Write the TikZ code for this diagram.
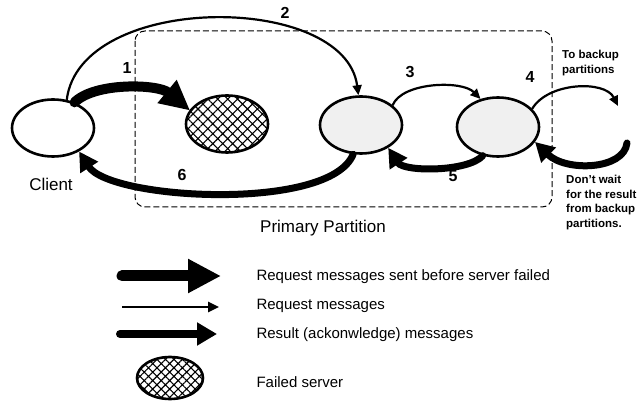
\documentclass[tikz,border=0pt]{standalone}
\usepackage{fontspec}
\setmainfont{Liberation Sans}
\usetikzlibrary{shapes.geometric,arrows.meta,patterns.meta}

\begin{document}
\begin{tikzpicture}[x=1pt,y=-1pt,
  server/.style={ellipse, draw, line width=2.6pt, inner sep=0pt,
                 minimum width=82pt, minimum height=57pt},
  live/.style={server, fill=black!6},
  failed/.style={server, pattern={Hatch[angle=45,distance=7pt,line width=1.1pt]}},
  reqmsg/.style={line width=2.2pt, -{Triangle[length=10pt,width=9pt]}},
  resmsg/.style={line width=7pt, line cap=round, -{Triangle[length=19pt,width=20pt]}},
  oldmsg/.style={line width=10pt, line cap=round, -{Triangle[length=30pt,width=28pt]}},
  partition/.style={draw, dashed, dash pattern=on 6pt off 3pt, line width=1pt, rounded corners=10pt},
  numlbl/.style={font=\fontsize{16}{18}\selectfont\bfseries},
  biglbl/.style={font=\fontsize{17}{20}\selectfont},
  legendlbl/.style={anchor=west, font=\fontsize{15}{18}\selectfont},
  notelbl/.style={anchor=north west, align=left, inner sep=0pt,
                  font=\fontsize{11.5}{14.5}\selectfont\bfseries},
]
\useasboundingbox (0,0) rectangle (638,406);

% primary partition frame
\draw[partition] (135,31) rectangle (552,207);
\node[biglbl] (pp) at (323,228) {Primary Partition};

% client and servers
\node[server] (client) at (53,128) {};
\node[biglbl] (clientlbl) at (51,184) {Client};
\node[failed] (dead) at (227,124) {};
\node[live] (s2) at (361,125) {};
\node[live, minimum height=59pt] (s3) at (498,127) {};

% 1: request sent before the server failed
\draw[oldmsg] (client.50) .. controls (95,82) and (158,84) .. (dead.160);
\node[numlbl] (n1) at (127,68) {1};

% 2: request re-sent to the new primary
\draw[reqmsg] (client.64) .. controls (80,-8) and (345,-8) .. (s2.95);
\node[numlbl] (n2) at (285,13) {2};

% 3: primary forwards to the next server
\draw[reqmsg] (s2.32) .. controls (402,82) and (462,80) .. (s3.122);
\node[numlbl] (n3) at (410,72) {3};

% 4: forwarded to backup partitions
\coordinate (bk1) at (618,106);
\draw[reqmsg] (s3.28) .. controls (548,82) and (605,80) .. (bk1);
\node[numlbl] (n4) at (530,77) {4};
\node[notelbl] (tobk) at (562,50) {To backup\\partitions};

% reply from backups
\coordinate (bk2) at (627,143);
\draw[resmsg] (bk2) .. controls (624,170) and (566,172) .. (s3.-22);
\node[notelbl] (nowait) at (566,175) {Don't wait\\for the result\\from backup\\partitions.};

% 5: result back to the primary
\draw[resmsg] (s3.-118) .. controls (468,172) and (404,172) .. (s2.-40);
\node[numlbl] (n5) at (453,176) {5};

% 6: result back to the client
\draw[resmsg] (s2.-105) .. controls (330,212) and (110,200) .. (client.-42);
\node[numlbl] (n6) at (182,175) {6};

% legend
\coordinate (la1) at (122,276); \coordinate (lb1) at (221,276);
\coordinate (la2) at (122,307); \coordinate (lb2) at (219,307);
\coordinate (la3) at (120,334); \coordinate (lb3) at (217,334);
\draw[line width=11pt, line cap=round, -{Triangle[length=33pt,width=32pt]}] (la1) -- (lb1);
\draw[line width=2.5pt, -{Triangle[length=11pt,width=10pt]}] (la2) -- (lb2);
\draw[line width=8pt, line cap=round, -{Triangle[length=20pt,width=22pt]}] (la3) -- (lb3);
\node[server, minimum width=66pt, minimum height=42pt,
      pattern={Hatch[angle=45,distance=6pt,line width=1.1pt]}] (lgdead) at (170,378) {};
\node[legendlbl] (t1) at (253,277) {Request messages sent before server failed};
\node[legendlbl] (t2) at (253,306) {Request messages};
\node[legendlbl] (t3) at (253,335) {Result (ackonwledge) messages};
\node[legendlbl] (t4) at (253,382) {Failed server};
\end{tikzpicture}
\end{document}
